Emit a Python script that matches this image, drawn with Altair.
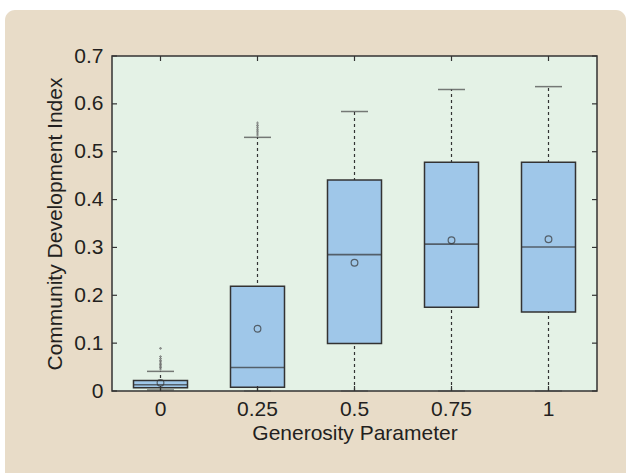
import altair as alt
import pandas as pd

groups = ["0", "0.25", "0.5", "0.75", "1"]
q1 = [0.007, 0.008, 0.099, 0.175, 0.165]
q3 = [0.022, 0.219, 0.441, 0.478, 0.478]
median = [0.013, 0.049, 0.285, 0.307, 0.301]
mean = [0.017, 0.130, 0.268, 0.315, 0.317]
whisker_low = [0.002, 0.0, 0.0, 0.0, 0.0]
whisker_high = [0.041, 0.530, 0.584, 0.630, 0.636]

outlier_group = ["0"] * 10 + ["0.25"] * 7
outlier_value = [0.046, 0.049, 0.052, 0.055, 0.058, 0.061, 0.064, 0.068, 0.072, 0.089,
                 0.535, 0.539, 0.543, 0.547, 0.551, 0.555, 0.560]

y_ticks = [0, 0.1, 0.2, 0.3, 0.4, 0.5, 0.6, 0.7]

W, H = 485, 335
FONT = "Liberation Sans"
FS = 21
BEIGE = "#e8dcc8"
GREEN = "#e4f2e6"
BOX = "#9fc7e9"
DARK = "#333333"
TXT = "#231f20"

box_df = pd.DataFrame({"g": groups, "q1": q1, "q3": q3, "med": median,
                       "mean": mean, "lo": whisker_low, "hi": whisker_high})
out_df = pd.DataFrame({"g": outlier_group, "v": outlier_value})
yt_df = pd.DataFrame({"v": y_ticks})
xt_df = pd.DataFrame({"g": groups})
one = pd.DataFrame({"a": [0]})

x_scale = alt.Scale(domain=groups, paddingInner=0, paddingOuter=0)
y_scale = alt.Scale(domain=[0, 0.7], nice=False, zero=True)

x_axis = alt.Axis(title="Generosity Parameter", labelAngle=0, domain=False, ticks=False,
                  tickSize=0, grid=False, labelFont=FONT, labelFontSize=FS,
                  labelColor=TXT, labelPadding=7, titleFont=FONT, titleFontSize=FS,
                  titleFontWeight="normal", titleColor=TXT, titlePadding=3, zindex=1)
y_axis = alt.Axis(title="Community Development Index", values=y_ticks, format=".1~f",
                  domain=False, ticks=False, tickSize=0, grid=False, labelFont=FONT,
                  labelFontSize=FS, labelColor=TXT, labelPadding=9, titleFont=FONT,
                  titleFontSize=FS, titleFontWeight="normal", titleColor=TXT,
                  titlePadding=8, zindex=1)


def X(field="g"):
    return alt.X(f"{field}:N", scale=x_scale, axis=x_axis, sort=groups)


def Y(field):
    return alt.Y(f"{field}:Q", scale=y_scale, axis=y_axis)


beige = alt.Chart(one).mark_rect(fill=BEIGE, cornerRadius=10).encode(
    x=alt.value(-107), x2=alt.value(514), y=alt.value(-46), y2=alt.value(440))

plot_bg = alt.Chart(one).mark_rect(fill=GREEN, stroke=DARK, strokeWidth=1.5).encode(
    x=alt.value(0), x2=alt.value(W), y=alt.value(0), y2=alt.value(H))

whisk = alt.Chart(box_df).mark_rule(color=DARK, strokeWidth=1.2, strokeDash=[3, 3]).encode(
    x=X(), y=Y("lo"), y2="hi")

outl = alt.Chart(out_df).mark_point(shape="cross", size=8, filled=True, color="#666666").encode(
    x=X(), y=Y("v"))

cap_hi = alt.Chart(box_df).mark_tick(size=27, thickness=1.5, color="#444444").encode(
    x=X(), y=Y("hi"))
cap_lo = alt.Chart(box_df).mark_tick(size=27, thickness=1.5, color="#444444").encode(
    x=X(), y=Y("lo"))

boxes = alt.Chart(box_df).mark_bar(width=54, fill=BOX, stroke=DARK, strokeWidth=1.5).encode(
    x=X(), y=Y("q1"), y2="q3")

meds = alt.Chart(box_df).mark_tick(size=54, thickness=1.6, color=DARK).encode(
    x=X(), y=Y("med"))

means = alt.Chart(box_df).mark_point(shape="circle", size=45, filled=False, stroke=DARK,
                                     strokeWidth=1.2).encode(x=X(), y=Y("mean"))

ytl = alt.Chart(yt_df).mark_rule(color=DARK, strokeWidth=1.2).encode(
    y=Y("v"), x=alt.value(0), x2=alt.value(5))
ytr = alt.Chart(yt_df).mark_rule(color=DARK, strokeWidth=1.2).encode(
    y=Y("v"), x=alt.value(W - 5), x2=alt.value(W))
xtt = alt.Chart(xt_df).mark_rule(color=DARK, strokeWidth=1.2).encode(
    x=X(), y=alt.value(0), y2=alt.value(5))
xtb = alt.Chart(xt_df).mark_rule(color=DARK, strokeWidth=1.2).encode(
    x=X(), y=alt.value(H - 5), y2=alt.value(H))

chart = alt.layer(beige, plot_bg, whisk, outl, cap_hi, cap_lo, boxes, meds, means,
                  ytl, ytr, xtt, xtb).properties(
    width=W, height=H, background="white",
    padding={"left": 112, "top": 56, "right": 29, "bottom": 82},
    autosize="none",
).configure_view(stroke=None)

chart.save("out.html", embed_options={"renderer": "svg", "actions": False})
